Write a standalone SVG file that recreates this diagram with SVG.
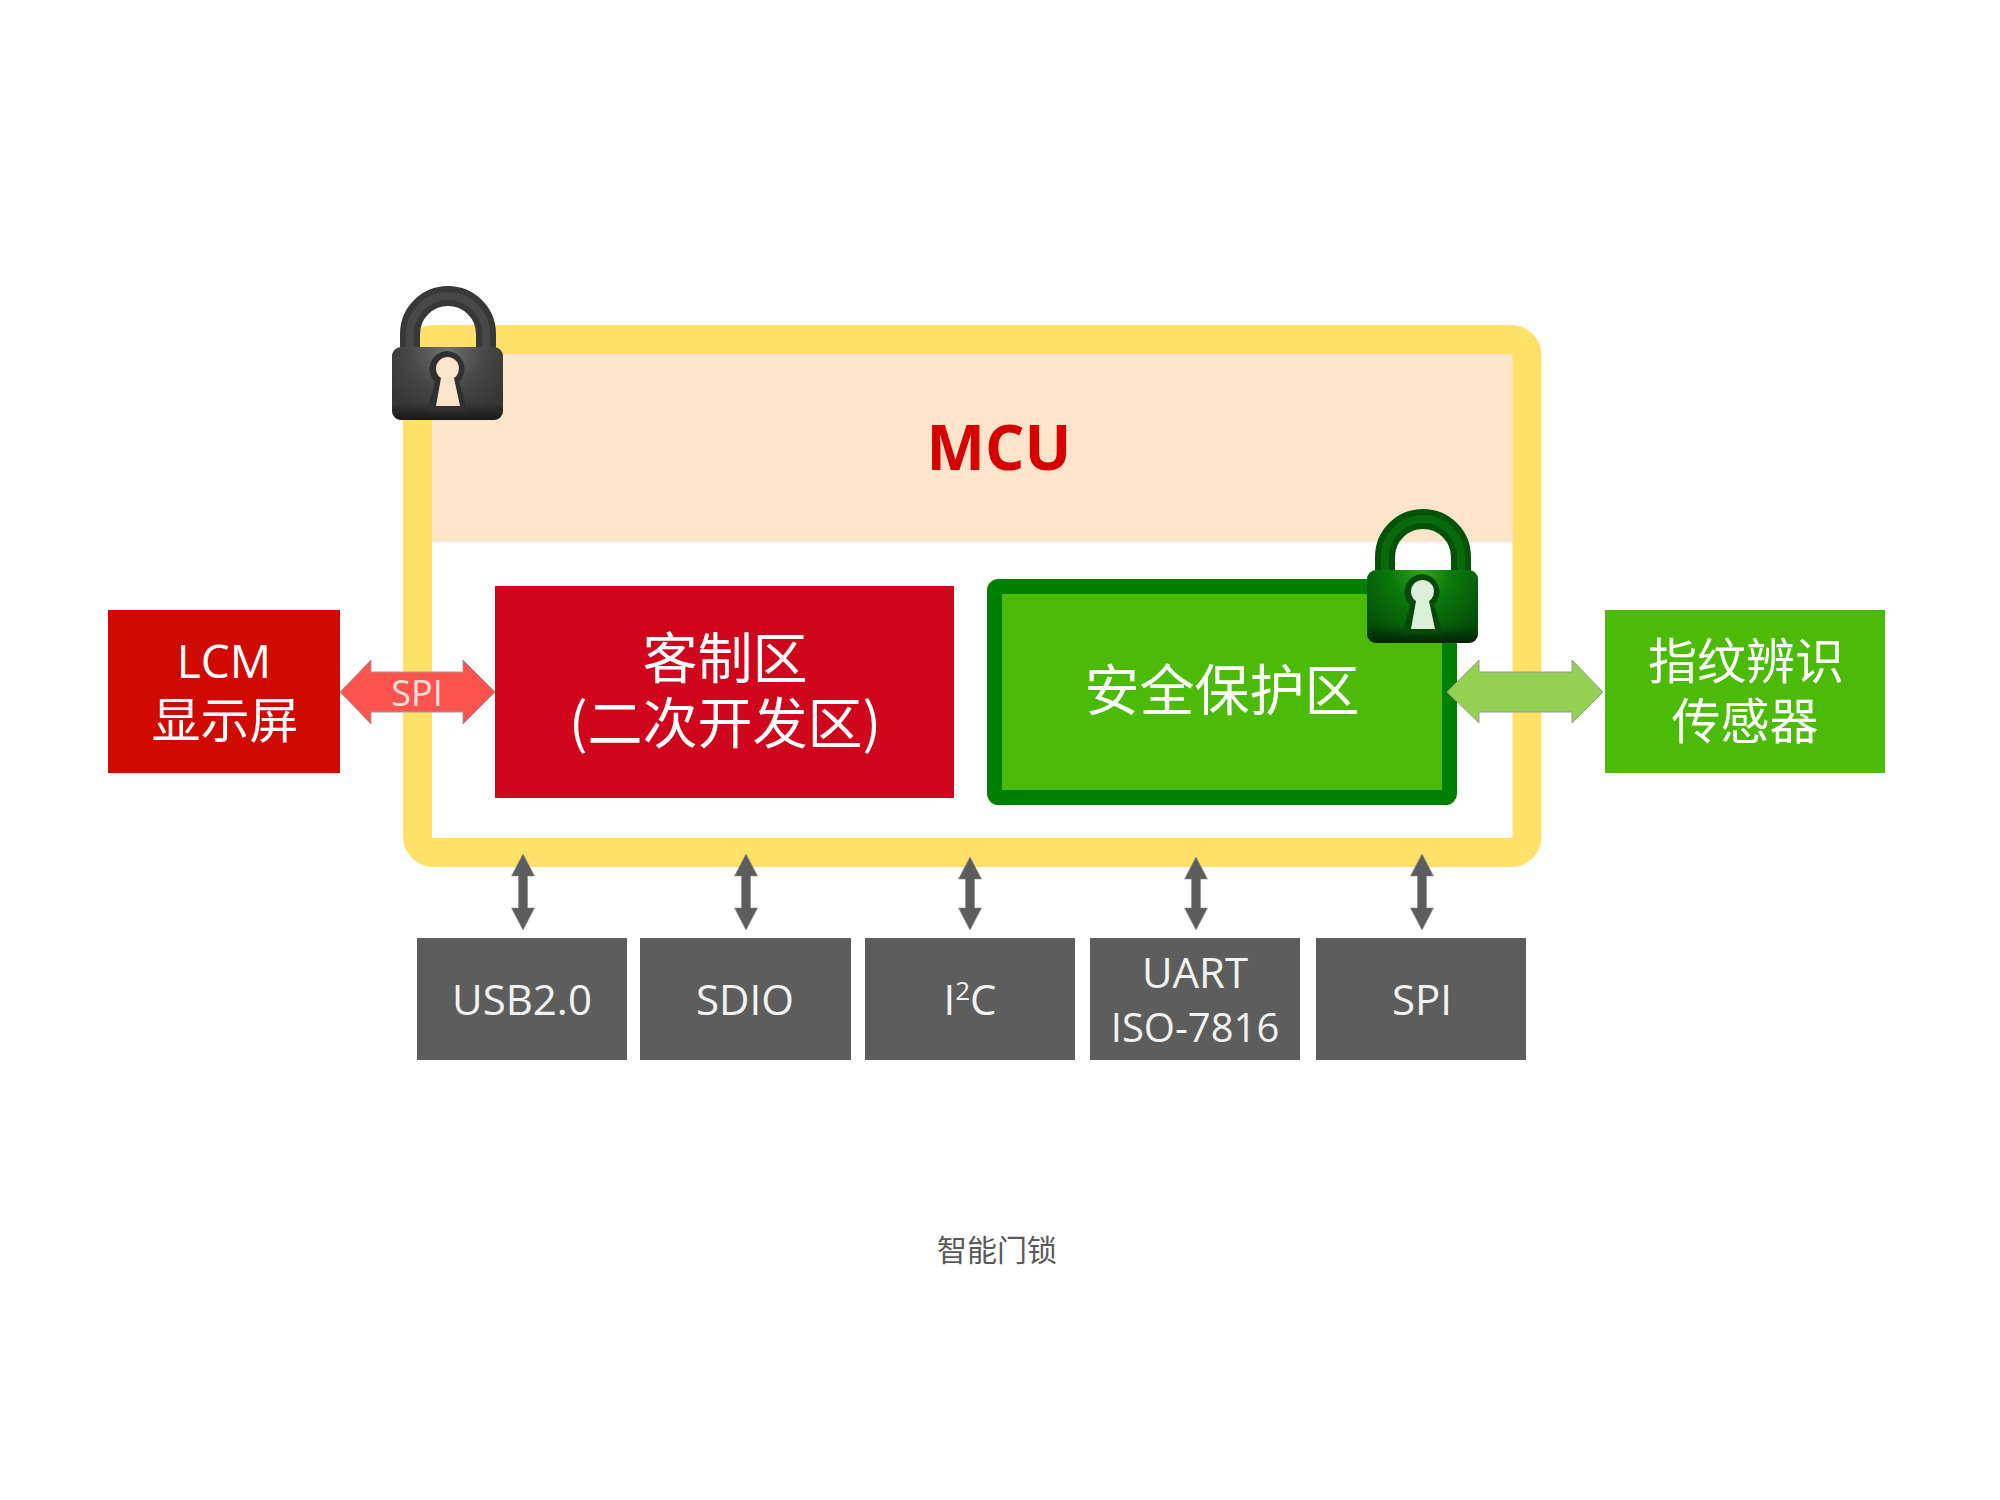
<svg xmlns="http://www.w3.org/2000/svg" width="2000" height="1500" viewBox="0 0 2000 1500">
<style>
text{font-family:"Open Sans","Noto Sans CJK SC",sans-serif;text-anchor:middle;fill:#fff}
.cjk{font-family:"Noto Sans CJK SC",sans-serif}
.bus{fill:#5d5d5d}
.io{font-size:42px;fill:#f2f2f2}
.arrow{fill:#5d5d5d;stroke:#8a8a8a;stroke-width:.6}
.wide{stroke:#9a9a9a;stroke-width:1}
</style>
<defs>
<radialGradient id="bodyGray" gradientUnits="userSpaceOnUse" cx="447" cy="350" r="70">
<stop offset="0" stop-color="#707070"/><stop offset=".55" stop-color="#474747"/><stop offset="1" stop-color="#363636"/>
</radialGradient>
<radialGradient id="bodyGreen" gradientUnits="userSpaceOnUse" cx="447" cy="348" r="76">
<stop offset="0" stop-color="#2fa51c"/><stop offset=".4" stop-color="#0b7a0b"/><stop offset="1" stop-color="#044d08"/>
</radialGradient>
<linearGradient id="shadeBottom" x1="0" y1="0" x2="0" y2="1">
<stop offset="0" stop-color="#000" stop-opacity="0"/><stop offset="1" stop-color="#000" stop-opacity=".55"/>
</linearGradient>
</defs>

<rect width="2000" height="1500" fill="#fff"/>

<g id="mcu">
<rect x="432" y="353" width="1081" height="189" fill="#fde5cb"/>
<rect x="417.500" y="339.500" width="1109.500" height="513" rx="16" fill="none" stroke="#ffe169" stroke-width="29"/>
<text x="999" y="470" font-size="62" font-weight="700" style="fill:#d60000">MCU</text>
</g>

<g id="lcm">
<rect x="108" y="610" width="232" height="163" fill="#d00a00"/>
<text x="224" y="678" font-size="46">LCM</text>
<text class="cjk" x="225" y="738" font-size="49">显示屏</text>
</g>

<g id="custom-zone">
<rect x="495" y="586" width="459" height="212" fill="#cf061c"/>
<text class="cjk" x="725" y="678" font-size="55">客制区</text>
<text class="cjk" x="725" y="743" font-size="55">(二次开发区)</text>
</g>

<g id="secure-zone">
<rect x="994.500" y="586.500" width="455" height="211" rx="4" fill="#4cbb08" stroke="#008000" stroke-width="15"/>
<text class="cjk" x="1222" y="710" font-size="55">安全保护区</text>
</g>

<g id="fingerprint-sensor">
<rect x="1605" y="610" width="280" height="163" fill="#4cbb08"/>
<text class="cjk" x="1746" y="679" font-size="49">指纹辨识</text>
<text class="cjk" x="1745" y="739" font-size="49">传感器</text>
</g>

<g id="usb"><rect class="bus" x="417" y="938" width="210" height="122"/><text class="io" x="522" y="1015">USB2.0</text></g>
<g id="sdio"><rect class="bus" x="640" y="938" width="211" height="122"/><text class="io" x="745" y="1015">SDIO</text></g>
<g id="i2c"><rect class="bus" x="865" y="938" width="210" height="122"/><text class="io" x="970" y="1015">I<tspan font-size="26" dy="-15">2</tspan><tspan dy="15">C</tspan></text></g>
<g id="uart"><rect class="bus" x="1090" y="938" width="210" height="122"/><text class="io" x="1195" y="988">UART</text><text class="io" x="1195" y="1042" style="font-size:40px">ISO-7816</text></g>
<g id="spi-port"><rect class="bus" x="1316" y="938" width="210" height="122"/><text class="io" x="1422" y="1015">SPI</text></g>

<g id="connectors">
<path class="wide" fill="#ff534f" d="M340 692L371 660V672H463V660L495 692L463 724V712H371V724Z"/>
<path class="wide" fill="#94d152" d="M1447 692L1479 660V672H1572V660L1603 692L1572 723V712H1479V723Z"/>
<path class="arrow" d="M523 854L534.500 876H527.500V908H534.500L523 930L511.500 908H518.500V876H511.500Z"/>
<path class="arrow" d="M746 854L757.500 876H750.500V908H757.500L746 930L734.500 908H741.500V876H734.500Z"/>
<path class="arrow" d="M970 857L981.500 879H974.500V908H981.500L970 930L958.500 908H965.500V879H958.500Z"/>
<path class="arrow" d="M1196 857L1207.500 879H1200.500V908H1207.500L1196 930L1184.500 908H1191.500V879H1184.500Z"/>
<path class="arrow" d="M1422 854L1433.500 876H1426.500V908H1433.500L1422 930L1410.500 908H1417.500V876H1410.500Z"/>
<text x="417" y="706" font-size="36" style="fill:#fbe0dc">SPI</text>
</g>

<g id="lock-gray">
<path d="M410 358V334A38 38 0 0 1 486 334V358" fill="none" stroke="#383838" stroke-width="20"/>
<path d="M410 358V334A38 38 0 0 1 486 334V358" fill="none" stroke="#484848" stroke-width="8"/>
<rect x="392" y="347" width="111" height="73" rx="9" fill="url(#bodyGray)"/>
<rect x="392" y="402" width="111" height="18" rx="9" fill="url(#shadeBottom)"/>
<path d="M447 351A18 18 0 0 1 459 382L468 411H427L435 382A18 18 0 0 1 447 351Z" fill="#303030"/>
<path d="M447 357A11.500 11.500 0 0 1 454 378L460 406H436L441 378A11.500 11.500 0 0 1 447 357Z" fill="#fde5cb"/>
</g>

<g id="lock-green" transform="translate(975 223)">
<path d="M410 358V334A38 38 0 0 1 486 334V358" fill="none" stroke="#035208" stroke-width="20"/>
<path d="M410 358V334A38 38 0 0 1 486 334V358" fill="none" stroke="#086a0c" stroke-width="8"/>
<rect x="392" y="347" width="111" height="73" rx="9" fill="url(#bodyGreen)"/>
<rect x="392" y="402" width="111" height="18" rx="9" fill="url(#shadeBottom)"/>
<path d="M447 351A18 18 0 0 1 459 382L468 411H427L435 382A18 18 0 0 1 447 351Z" fill="#054a0a"/>
<path d="M447 357A11.500 11.500 0 0 1 454 378L460 406H436L441 378A11.500 11.500 0 0 1 447 357Z" fill="#dcefd8"/>
</g>

<g id="caption">
<text class="cjk" x="997" y="1261" font-size="30" style="fill:#595959">智能门锁</text>
</g>
</svg>
